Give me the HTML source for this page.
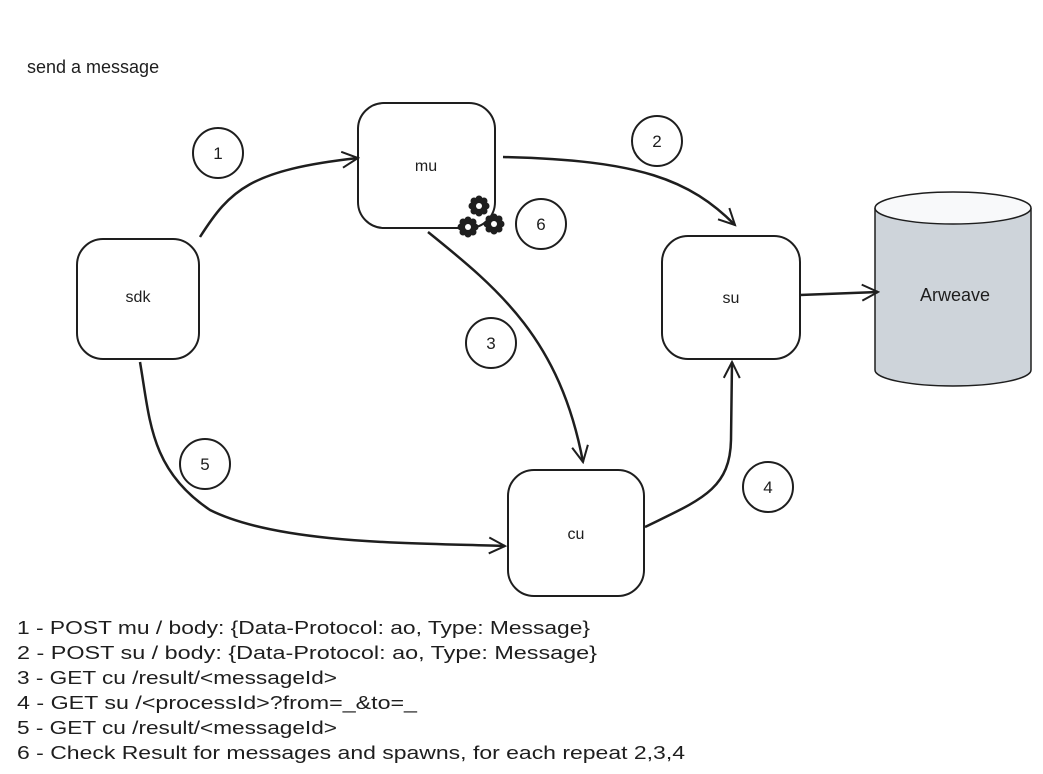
<!DOCTYPE html>
<html><head><meta charset="utf-8"><style>
html,body{margin:0;padding:0;background:#fff;}
svg{display:block;}
text{font-family:"Liberation Sans",sans-serif;fill:#1e1e1e;}
</style></head><body>
<svg width="1043" height="774" viewBox="0 0 1043 774" xmlns="http://www.w3.org/2000/svg">
<defs>
<marker id="ah" markerWidth="20" markerHeight="20" refX="18" refY="10" orient="auto" markerUnits="userSpaceOnUse">
<path d="M2,2 L18,10 L2,18" fill="none" stroke="#1e1e1e" stroke-width="2"/>
</marker>
<g id="gear">
<circle r="7" fill="#1e1e1e"/>
<circle cx="0" cy="-7" r="3.5" fill="#1e1e1e"/><circle cx="0" cy="7" r="3.5" fill="#1e1e1e"/>
<circle cx="-7" cy="0" r="3.5" fill="#1e1e1e"/><circle cx="7" cy="0" r="3.5" fill="#1e1e1e"/>
<circle cx="5" cy="5" r="3.5" fill="#1e1e1e"/><circle cx="-5" cy="-5" r="3.5" fill="#1e1e1e"/>
<circle cx="5" cy="-5" r="3.5" fill="#1e1e1e"/><circle cx="-5" cy="5" r="3.5" fill="#1e1e1e"/>
<circle r="3" fill="#fff"/>
</g>
</defs>
<g fill="none" stroke="#1e1e1e" stroke-width="2">
<rect x="358" y="103" width="137" height="125" rx="26"/>
<rect x="77" y="239" width="122" height="120" rx="26"/>
<rect x="662" y="236" width="138" height="123" rx="26"/>
<rect x="508" y="470" width="136" height="126" rx="26"/>
<circle cx="218" cy="153" r="25"/>
<circle cx="657" cy="141" r="25"/>
<circle cx="541" cy="224" r="25"/>
<circle cx="491" cy="343" r="25"/>
<circle cx="205" cy="464" r="25"/>
<circle cx="768" cy="487" r="25"/>
</g>
<path d="M875,208 L875,370 A78,16 0 0 0 1031,370 L1031,208" fill="#ced4da" stroke="#1e1e1e" stroke-width="1.5"/>
<ellipse cx="953" cy="208" rx="78" ry="16" fill="#f8f9fa" stroke="#1e1e1e" stroke-width="1.5"/>
<g fill="none" stroke="#1e1e1e" stroke-width="2.5" marker-end="url(#ah)">
<path d="M200,237 C230,190 250,170 358,158"/>
<path d="M503,157 C640,160 690,180 735,225"/>
<path d="M428,232 C500,290 560,340 583,462"/>
<path d="M140,362 C150,420 150,470 210,510 C280,545 420,543 505,546"/>
<path d="M645,527 C700,500 730,490 731,440 L732,362"/>
<path d="M800,295 L878,292"/>
</g>
<use href="#gear" x="479" y="206"/>
<use href="#gear" x="468" y="227"/>
<use href="#gear" x="494" y="224"/>
<text x="27" y="73" font-size="18">send a message</text>
<text x="426" y="171" font-size="16" text-anchor="middle">mu</text>
<text x="138" y="302" font-size="16" text-anchor="middle">sdk</text>
<text x="731" y="303" font-size="16" text-anchor="middle">su</text>
<text x="576" y="539" font-size="16" text-anchor="middle">cu</text>
<text x="955" y="301" font-size="18" text-anchor="middle">Arweave</text>
<g font-size="17" text-anchor="middle">
<text x="218" y="159">1</text><text x="657" y="147">2</text><text x="541" y="230">6</text>
<text x="491" y="349">3</text><text x="205" y="470">5</text><text x="768" y="493">4</text>
</g>
<g font-size="18">
<text x="17" y="634" textLength="573" lengthAdjust="spacingAndGlyphs">1 - POST mu / body: {Data-Protocol: ao, Type: Message}</text>
<text x="17" y="659" textLength="580" lengthAdjust="spacingAndGlyphs">2 - POST su / body: {Data-Protocol: ao, Type: Message}</text>
<text x="17" y="684" textLength="320" lengthAdjust="spacingAndGlyphs">3 - GET cu /result/&lt;messageId&gt;</text>
<text x="17" y="709" textLength="400" lengthAdjust="spacingAndGlyphs">4 - GET su /&lt;processId&gt;?from=_&amp;to=_</text>
<text x="17" y="734" textLength="320" lengthAdjust="spacingAndGlyphs">5 - GET cu /result/&lt;messageId&gt;</text>
<text x="17" y="759" textLength="668" lengthAdjust="spacingAndGlyphs">6 - Check Result for messages and spawns, for each repeat 2,3,4</text>
</g>
</svg>
</body></html>
